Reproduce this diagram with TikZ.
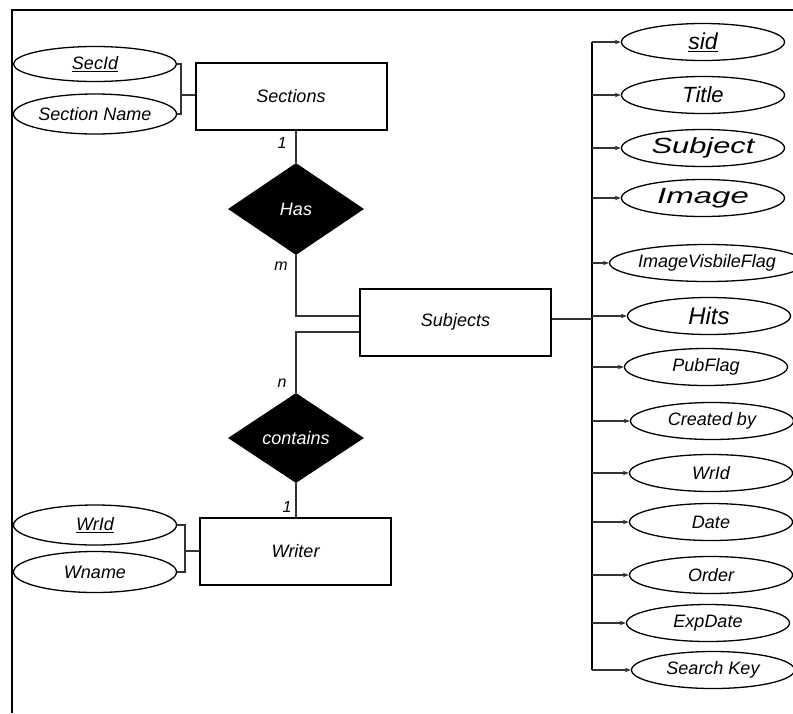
\documentclass[tikz,border=0pt]{standalone}
\usepackage{fontspec}
\setmainfont{Liberation Sans}
\usepackage{graphicx}
\usetikzlibrary{arrows.meta,calc,shapes.geometric}

\tikzset{
  entity/.style={rectangle, draw, line width=2pt, minimum width=191pt, minimum height=67pt, font=\fontsize{18}{20}\selectfont\itshape},
  relation/.style={diamond, fill=black, text=white, inner sep=0pt, minimum width=136pt, minimum height=92pt, font=\fontsize{18}{20}\selectfont\itshape},
  attrib/.style={ellipse, draw, line width=1.3pt, inner sep=0pt, minimum width=163pt, minimum height=37pt, font=\fontsize{18}{20}\selectfont\itshape},
  card/.style={font=\fontsize{16}{18}\selectfont\itshape},
  link/.style={line width=1.1pt, black!80}
}

\begin{document}
\begin{tikzpicture}[x=1pt,y=-1pt]
    \useasboundingbox (0,0) rectangle (793,713);
    \draw[line width=2.2pt] (12,713) -- (12,10) -- (793,10);

    % entities and relations
    \node[entity] (sections) at (291,96) {Sections};
    \node[relation] (has) at (296,209) {Has};
    \node[entity] (subjects) at (455.5,322) {Subjects};
    \node[relation, minimum height=90pt] (contains) at (296,438) {contains};
    \node[entity] (writer) at (295.5,551) {Writer};

    % attributes on the left
    \node[attrib, minimum height=35pt] (secid) at (95,64) {\underline{SecId}};
    \node[attrib, minimum height=40pt] (secname) at (95,114) {Section Name};
    \node[attrib, minimum height=40pt] (wrid) at (95,525) {\underline{WrId}};
    \node[attrib, minimum height=41pt] (wname) at (95,572) {Wname};

    \coordinate (brkS) at (181,95);
    \draw[link] (secid.east) -| (brkS) |- (secname.east);
    \draw[link] (brkS) -- (brkS -| sections.west);
    \coordinate (brkW) at (185,551);
    \draw[link] (wrid.east) -| (brkW) |- (wname.east);
    \draw[link] (brkW) -- (writer.west);

    % relation lines
    \draw[link] (has.north |- sections.south) -- (has.north);
    \draw[link] (has.south) |- ([yshift=6pt]subjects.west);
    \draw[link] ([yshift=-10pt]subjects.west) -| (contains.north);
    \draw[link] (contains.south) -- (contains.south |- writer.north);
    \node[card] (cardA) at (282,143) {1};
    \node[card] (cardB) at (281,266) {m};
    \node[card] (cardC) at (282,383) {n};
    \node[card] (cardD) at (287,507) {1};

    % attributes of Subjects
    \coordinate (trunktop) at (592,42);
    \coordinate (trunkbot) at (592,670);
    \draw[line width=2pt] (trunktop) -- (trunkbot);
    \draw[link] ([yshift=3pt]subjects.east) -- ([yshift=3pt]subjects.east -| trunktop);
    \foreach \nm/\xx/\yy/\txt in {
        sid/703/42/{\fontsize{23}{26}\selectfont\underline{sid}},
        title/703/95/{\fontsize{22}{26}\selectfont Title},
        subject/703/148/{\fontsize{22}{26}\selectfont\scalebox{1.4}[1]{Subject}},
        image/703/198/{\fontsize{22}{26}\selectfont\scalebox{1.5}[1]{Image}},
        imgflag/707/263/{ImageVisbileFlag},
        hits/709/316/{\fontsize{24}{26}\selectfont Hits},
        pubflag/706/367/{PubFlag},
        createdby/712/421/{Created by},
        wridattr/711/473/{WrId},
        date/711/522/{Date},
        order/711/575/{Order},
        expdate/708/623/{ExpDate},
        searchkey/713/670/{Search Key}} {
        \node[attrib] (\nm) at (\xx,\yy) {\txt};
        \draw[link,-{Stealth[length=6pt,width=4.5pt]}] (\nm.west -| trunktop) -- (\nm.west);
    }
\end{tikzpicture}
\end{document}
